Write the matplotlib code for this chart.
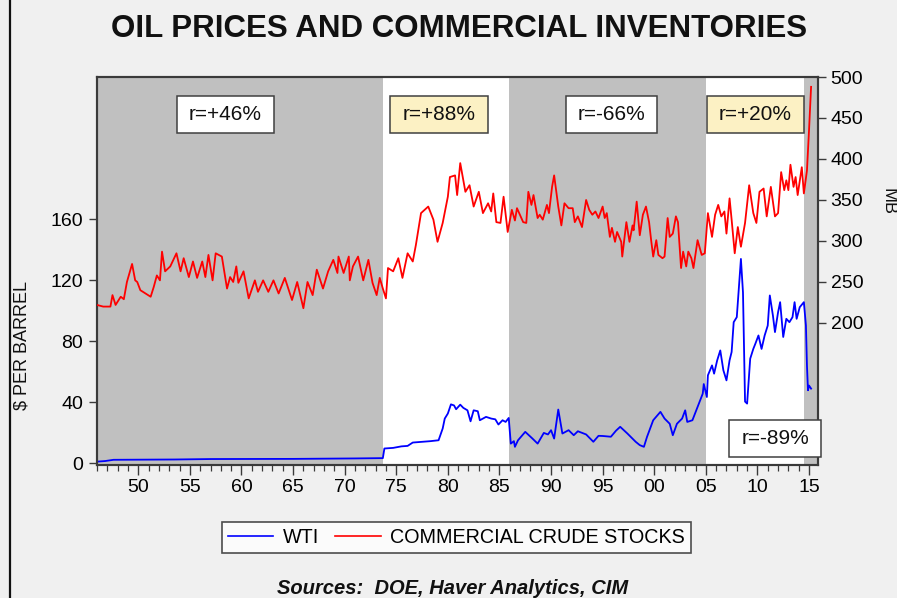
import matplotlib
matplotlib.use("Agg")
import matplotlib.pyplot as plt
from matplotlib.patches import Rectangle
from matplotlib.lines import Line2D
import numpy as np

plt.rcParams['font.family'] = ['Liberation Sans', 'DejaVu Sans']

# ---------------- data ----------------
wti_years = [1946.0, 1946.8, 1947.6, 1953.5, 1957.0, 1965.0, 1971.0, 1973.7, 1973.85,
             1974.7, 1975.5, 1976.1, 1976.6, 1978.3, 1979.1, 1979.5, 1979.7, 1980.0,
             1980.3, 1980.6, 1980.8, 1981.2, 1981.5, 1981.9, 1982.2, 1982.5, 1982.9,
             1983.1, 1983.7, 1984.2, 1984.6, 1984.9, 1985.3, 1985.6, 1985.9, 1986.1,
             1986.4, 1986.5, 1986.8, 1987.5, 1988.2, 1988.7, 1989.3, 1989.7, 1990.0,
             1990.3, 1990.7, 1991.1, 1991.7, 1992.2, 1992.6, 1993.4, 1994.1, 1994.6,
             1995.0, 1995.8, 1996.3, 1996.7, 1997.4, 1998.2, 1998.6, 1999.0, 1999.3,
             1999.9, 2000.6, 2001.0, 2001.5, 2001.8, 2002.2, 2002.7, 2003.0, 2003.2,
             2003.7, 2004.2, 2004.7, 2004.8, 2005.1, 2005.2, 2005.6, 2005.8, 2006.1,
             2006.4, 2006.7, 2007.0, 2007.3, 2007.5, 2007.7, 2008.0, 2008.4, 2008.6,
             2008.8, 2009.0, 2009.3, 2009.6, 2009.8, 2010.1, 2010.4, 2010.7, 2011.0,
             2011.2, 2011.5, 2011.7, 2012.0, 2012.2, 2012.5, 2012.8, 2013.1, 2013.4,
             2013.6, 2013.8, 2014.1, 2014.5, 2014.7, 2014.8, 2014.9, 2015.0, 2015.2]
wti_values = [1.2, 1.6, 2.4, 2.6, 2.9, 3.0, 3.3, 3.5, 9.8,
              10.2, 11.2, 11.5, 13.7, 14.6, 15.2, 22.9, 29.4, 32.7,
              38.7, 38.0, 35.5, 38.5, 36.4, 34.8, 27.6, 34.8, 34.2,
              28.3, 30.5, 29.4, 28.9, 25.5, 28.3, 27.2, 29.8, 13.0,
              14.6, 10.9, 15.2, 20.7, 16.3, 13.0, 20.0, 19.0, 21.8,
              16.3, 35.3, 19.6, 21.8, 18.5, 21.1, 19.0, 14.2, 18.1,
              18.0, 17.5, 21.5, 24.0, 19.6, 14.2, 12.0, 10.9, 17.4,
              28.3, 33.8, 29.4, 26.0, 18.5, 26.0, 29.4, 34.8, 27.2,
              28.3, 37.0, 45.7, 52.0, 43.5, 57.7, 64.2, 58.8, 67.5,
              74.0, 61.0, 54.4, 67.5, 73.0, 92.5, 95.8, 133.9, 112.0,
              40.5, 39.2, 68.6, 75.0, 78.4, 83.8, 75.0, 83.8, 90.3,
              110.0, 96.9, 86.0, 99.0, 105.6, 82.8, 94.7, 92.5, 95.8,
              105.6, 94.7, 102.3, 105.6, 90.3, 64.2, 47.9, 51.0, 49.0]

stock_years = [1946.0, 1946.6, 1947.3, 1947.5, 1947.8, 1948.3, 1948.6, 1948.9, 1949.4, 1949.7,
               1949.9, 1950.2, 1950.7, 1951.2, 1951.5, 1951.8, 1952.1, 1952.3, 1952.6, 1953.1,
               1953.7, 1954.1, 1954.4, 1954.9, 1955.3, 1955.7, 1956.2, 1956.5, 1956.8, 1957.2,
               1957.5, 1958.1, 1958.6, 1958.9, 1959.2, 1959.5, 1959.7, 1960.2, 1960.7, 1961.3,
               1961.6, 1962.1, 1962.6, 1963.1, 1963.6, 1964.2, 1964.9, 1965.4, 1966.0, 1966.4,
               1966.9, 1967.3, 1967.9, 1968.4, 1968.9, 1969.3, 1969.4, 1969.9, 1970.4, 1970.5,
               1970.8, 1971.3, 1971.8, 1972.3, 1972.7, 1973.1, 1973.4, 1973.7, 1974.0, 1974.2,
               1974.7, 1975.2, 1975.6, 1976.1, 1976.6, 1976.9, 1977.4, 1978.1, 1978.6, 1979.0,
               1979.5, 1980.0, 1980.2, 1980.7, 1980.9, 1981.2, 1981.7, 1982.1, 1982.5, 1983.0,
               1983.4, 1983.9, 1984.2, 1984.4, 1984.7, 1985.1, 1985.4, 1985.8, 1986.2, 1986.5,
               1986.7, 1987.3, 1987.6, 1987.8, 1988.1, 1988.3, 1988.7, 1988.9, 1989.2, 1989.6,
               1989.8, 1990.1, 1990.3, 1990.7, 1991.0, 1991.3, 1991.7, 1992.1, 1992.3, 1992.6,
               1993.0, 1993.4, 1993.7, 1994.0, 1994.3, 1994.6, 1995.0, 1995.2, 1995.4, 1995.7,
               1995.9, 1996.2, 1996.4, 1996.8, 1996.9, 1997.3, 1997.6, 1997.9, 1998.0, 1998.3,
               1998.6, 1998.9, 1999.2, 1999.5, 1999.7, 1999.9, 2000.2, 2000.4, 2000.8, 2001.0,
               2001.3, 2001.5, 2001.8, 2002.1, 2002.3, 2002.6, 2002.8, 2003.1, 2003.3, 2003.6,
               2003.8, 2004.2, 2004.6, 2004.9, 2005.2, 2005.6, 2005.9, 2006.2, 2006.5, 2006.8,
               2007.0, 2007.3, 2007.5, 2007.8, 2008.1, 2008.4, 2008.8, 2009.2, 2009.6, 2009.9,
               2010.2, 2010.6, 2010.9, 2011.3, 2011.7, 2012.0, 2012.3, 2012.6, 2012.8, 2013.0,
               2013.2, 2013.5, 2013.7, 2013.9, 2014.3, 2014.5, 2014.8, 2015.0, 2015.2]
stock_values = [222, 220, 220, 234, 222, 232, 229, 250, 272, 252,
                250, 240, 236, 232, 244, 258, 252, 287, 263, 269,
                285, 263, 279, 256, 275, 255, 275, 256, 283, 252,
                285, 281, 242, 256, 250, 269, 249, 263, 230, 252,
                238, 252, 238, 252, 236, 255, 228, 250, 218, 250,
                234, 265, 242, 263, 277, 261, 281, 261, 281, 252,
                269, 281, 252, 277, 249, 234, 255, 242, 230, 267,
                263, 279, 255, 285, 275, 295, 334, 342, 326, 299,
                322, 354, 378, 380, 356, 395, 360, 368, 342, 360,
                334, 346, 336, 358, 323, 322, 354, 311, 338, 325,
                340, 323, 322, 360, 344, 356, 328, 332, 326, 344,
                334, 366, 380, 342, 319, 346, 340, 340, 323, 330,
                317, 350, 338, 332, 336, 328, 342, 328, 334, 305,
                316, 299, 311, 299, 281, 323, 299, 319, 313, 348,
                307, 332, 342, 323, 301, 281, 301, 283, 279, 281,
                328, 305, 309, 330, 323, 267, 287, 269, 287, 279,
                267, 301, 283, 285, 334, 305, 332, 344, 330, 336,
                309, 352, 326, 285, 317, 293, 322, 368, 334, 322,
                360, 364, 330, 366, 330, 334, 384, 362, 374, 362,
                393, 366, 378, 356, 390, 358, 386, 435, 488]

shade_periods = [(1946.0, 1973.75), (1985.95, 2005.05), (2014.55, 2016.0)]
left_ticks = [0, 40, 80, 120, 160]
right_ticks = [200, 250, 300, 350, 400, 450, 500]
major_years = list(range(1950, 2016, 5))
minor_years = list(range(1946, 2016))
corr_labels = ["r=+46%", "r=+88%", "r=-66%", "r=+20%", "r=-89%"]
corr_fill = ["white", "#fcf1c4", "white", "#fcf1c4", "white"]

# ---------------- figure ----------------
W, H = 897, 598
fig = plt.figure(figsize=(W / 100, H / 100), dpi=100, facecolor="#f0f0f0")

def fx(px):
    return px / W

def fy(py):
    return 1 - py / H

ax = fig.add_axes([fx(97), fy(465), fx(818) - fx(97), fy(77) - fy(465)])
ax.set_facecolor("white")
ax2 = ax.twinx()

for a, b in shade_periods:
    ax.axvspan(a, b, color="#c0c0c0", lw=0, zorder=0)

ax.plot(wti_years, wti_values, color="#0000ff", lw=1.3, zorder=3)
ax2.plot(stock_years, stock_values, color="#ff0000", lw=1.3, zorder=3)

ax.set_xlim(1946.0, 2015.87)
ax.set_ylim(-1, 253)
ax2.set_ylim(26.8, 500)

ax.set_yticks(left_ticks)
ax.set_yticklabels([str(v) for v in left_ticks])
ax2.set_yticks(right_ticks)
ax2.set_yticklabels([str(v) for v in right_ticks])
ax.set_xticks(major_years)
ax.set_xticklabels([f"{y % 100:02d}" for y in major_years])
ax.set_xticks(minor_years, minor=True)

spc = "#3a3a3a"
for a in (ax, ax2):
    for s in a.spines.values():
        s.set_color(spc)
        s.set_linewidth(1.5)
ax.tick_params(axis="x", which="major", direction="out", length=7, width=1.0,
               color=spc, labelsize=14, pad=3)
ax.tick_params(axis="x", which="minor", direction="out", length=4, width=0.9, color=spc)
ax.tick_params(axis="y", direction="out", length=6, width=1.0, color=spc,
               labelsize=14, pad=4)
ax2.tick_params(axis="y", direction="out", length=6, width=1.0, color=spc,
                labelsize=14, pad=3)

lh_wti, = ax.plot([], [], color="#0000ff", lw=1.2, label="WTI")
lh_st, = ax.plot([], [], color="#ff0000", lw=1.2, label="COMMERCIAL CRUDE STOCKS")

# correlation boxes (figure pixel layout)
boxes = [(177, 96, 274, 133), (390, 96, 488, 133), (566, 96, 657, 133),
         (707, 96, 804, 133), (729, 420, 821, 457)]
for (x0, y0, x1, y1), lab, fc in zip(boxes, corr_labels, corr_fill):
    fig.patches.append(Rectangle((fx(x0), fy(y1)), fx(x1) - fx(x0), fy(y0) - fy(y1),
                                 transform=fig.transFigure, facecolor=fc,
                                 edgecolor="#404040", lw=1.1, zorder=10))
    fig.text(fx((x0 + x1) / 2), fy((y0 + y1) / 2), lab, ha="center", va="center",
             fontsize=15, color="#111111", zorder=11)

# titles and labels
fig.text(fx(459), fy(29), "OIL PRICES AND COMMERCIAL INVENTORIES", ha="center",
         va="center", fontsize=22.5, fontweight="bold", color="#111111")
fig.text(fx(22), fy(345), "$ PER BARREL", rotation=90, ha="center", va="center",
         fontsize=13, color="#111111")
fig.text(fx(888), fy(202), "MB", rotation=270, ha="center", va="center",
         fontsize=13, color="#111111")

leg = fig.legend(handles=[lh_wti, lh_st], loc="center",
                 bbox_to_anchor=(fx(456.5), fy(537.5)), ncol=2, fontsize=14.2,
                 frameon=True, fancybox=False, handlelength=2.3, handletextpad=0.5,
                 columnspacing=0.8, borderpad=0.3, borderaxespad=0)
leg.get_frame().set_edgecolor("#222222")
leg.get_frame().set_linewidth(1.2)
leg.get_frame().set_facecolor("white")

fig.text(fx(453), fy(588), "Sources:  DOE, Haver Analytics, CIM", ha="center",
         va="center", fontsize=14.5, fontweight="bold", fontstyle="italic", color="#111111")

fig.lines.append(Line2D([fx(9.5), fx(9.5)], [0, 1], transform=fig.transFigure,
                        color="#111111", lw=1.6))

fig.savefig("out.png", dpi=100, facecolor=fig.get_facecolor())
